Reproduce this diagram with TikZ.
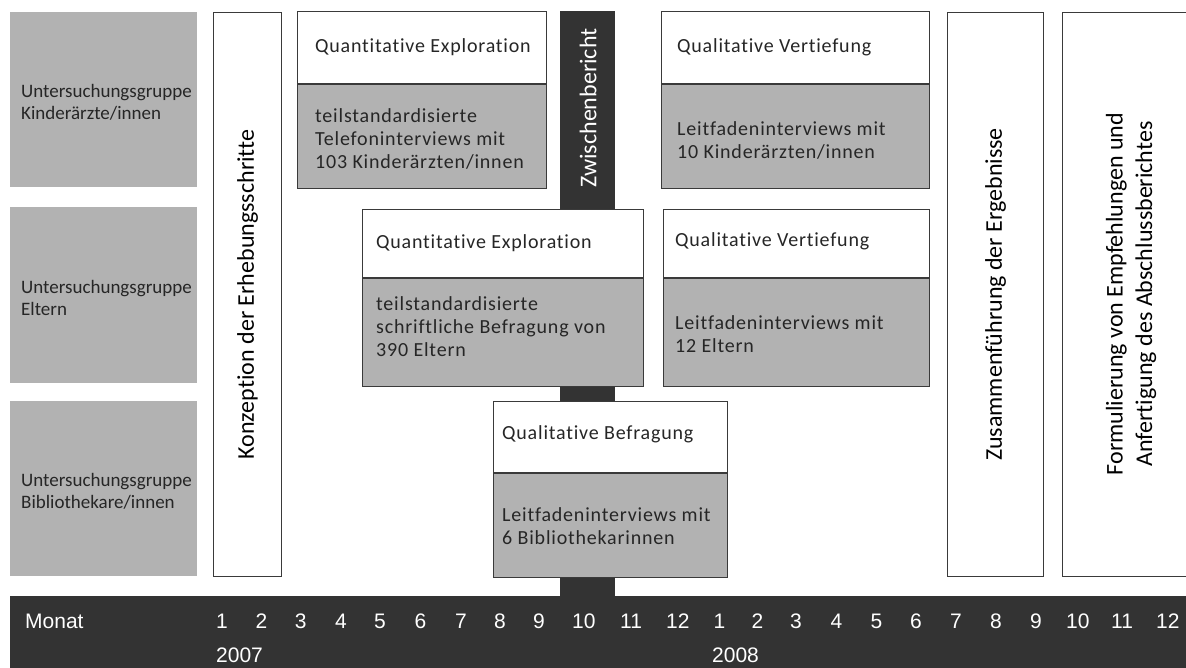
\documentclass[tikz,border=0pt]{standalone}
\usepackage{fontspec}
\setmainfont{Carlito}[RawFeature=-liga]
\newfontfamily\arialf{Liberation Sans}
\newfontfamily\spacedf[LetterSpace=4,RawFeature=-liga]{Carlito}
\definecolor{grpgray}{HTML}{B2B2B2}
\definecolor{boxline}{HTML}{3A3A3A}
\definecolor{darkband}{HTML}{333333}
\begin{document}
\begin{tikzpicture}[x=1pt,y=-1pt,
  groupbox/.style={fill=grpgray, draw=none, minimum width=187pt, anchor=north west, inner sep=0pt},
  topbox/.style={fill=white, draw=boxline, line width=1pt, anchor=north west, inner sep=0pt},
  detailbox/.style={fill=grpgray, draw=boxline, line width=1pt, anchor=north west, inner sep=0pt},
  grouptext/.style={font=\fontsize{19}{22}\selectfont, align=left, anchor=west, inner sep=0pt, text=black!85},
  boxtext/.style={font=\spacedf\fontsize{20}{23}\selectfont, align=left, anchor=west, inner sep=0pt, text=black!85},
  vtext/.style={rotate=90, font=\fontsize{24}{29.5}\selectfont, align=center, inner sep=0pt},
  monthlbl/.style={font=\arialf\fontsize{21}{25}\selectfont, text=white, anchor=base west, inner sep=0pt}
]
\useasboundingbox (0,0) rectangle (1186,667);
\clip (0,0) rectangle (1186,667);

% left group boxes
\node[groupbox, minimum height=175pt] (gK) at (10,12) {};
\node[groupbox, minimum height=176pt] (gE) at (10,207) {};
\node[groupbox, minimum height=175pt] (gB) at (10,401) {};
\node[grouptext] (tgK) at (21,102) {Untersuchungsgruppe\\Kinderärzte/innen};
\node[grouptext] (tgE) at (21,298) {Untersuchungsgruppe\\Eltern};
\node[grouptext] (tgB) at (21,491) {Untersuchungsgruppe\\Bibliothekare/innen};

% Konzeption
\node[topbox, minimum width=68pt, minimum height=564pt] (konz) at (213,12) {};
\node[vtext] (tkonz) at (konz.center) {Konzeption der Erhebungsschritte};

% Zwischenbericht bar
\fill[darkband] (560,11) rectangle (615,600);
\node[vtext, text=white] (tzw) at (588,108) {Zwischenbericht};

% Kinderaerzte: quantitative
\node[topbox, minimum width=249pt, minimum height=72pt] (qeK) at (297,11) {};
\node[detailbox, minimum width=249pt, minimum height=104pt] (qeKd) at (qeK.south west) {};
\node[boxtext] (tqeK) at (315,47) {Quantitative Exploration};
\node[boxtext] (tqeKd) at (315,139) {teilstandardisierte\\Telefoninterviews mit\\103 Kinderärzten/innen};

% Kinderaerzte: qualitative
\node[topbox, minimum width=268pt, minimum height=72pt] (qvK) at (661,11) {};
\node[detailbox, minimum width=268pt, minimum height=104pt] (qvKd) at (qvK.south west) {};
\node[boxtext] (tqvK) at (677,47) {Qualitative Vertiefung};
\node[boxtext] (tqvKd) at (677,140) {Leitfadeninterviews mit\\10 Kinderärzten/innen};

% Eltern: quantitative
\node[topbox, minimum width=281pt, minimum height=68pt] (qeE) at (362,209) {};
\node[detailbox, minimum width=281pt, minimum height=108pt] (qeEd) at (qeE.south west) {};
\node[boxtext] (tqeE) at (376,243) {Quantitative Exploration};
\node[boxtext] (tqeEd) at (376,327) {teilstandardisierte\\schriftliche Befragung von\\390 Eltern};

% Eltern: qualitative
\node[topbox, minimum width=266pt, minimum height=68pt] (qvE) at (663,209) {};
\node[detailbox, minimum width=266pt, minimum height=108pt] (qvEd) at (qvE.south west) {};
\node[boxtext] (tqvE) at (675,241) {Qualitative Vertiefung};
\node[boxtext] (tqvEd) at (675,334) {Leitfadeninterviews mit\\12 Eltern};

% Bibliothekare: qualitative
\node[topbox, minimum width=234pt, minimum height=71pt] (qbB) at (493,401) {};
\node[detailbox, minimum width=234pt, minimum height=104pt] (qbBd) at (qbB.south west) {};
\node[boxtext] (tqbB) at (502,434) {Qualitative Befragung};
\node[boxtext] (tqbBd) at (502,526) {Leitfadeninterviews mit\\6 Bibliothekarinnen};

% Zusammenfuehrung
\node[topbox, minimum width=96pt, minimum height=564pt] (zus) at (947,12) {};
\node[vtext] (tzus) at (zus.center) {Zusammenführung der Ergebnisse};

% Formulierung
\node[topbox, minimum width=140pt, minimum height=564pt] (form) at (1062,12) {};
\node[vtext] (tform) at (1131,294) {Formulierung von Empfehlungen und\\Anfertigung des Abschlussberichtes};

% bottom band
\fill[darkband] (10,596) rectangle (1190,670);
\node[monthlbl] (monat) at (25,628) {Monat};
\foreach \xx/\lab in {216/1,255.5/2,294.7/3,335/4,374/5,414.5/6,455/7,494/8,533/9,572/10,620/11,666/12,
  713.5/1,751.5/2,790/3,830.5/4,870.5/5,910/6,950/7,990/8,1030/9,1066/10,1111/11,1156/12}
  \node[monthlbl] at (\xx,628) {\lab};
\node[monthlbl] (y7) at (216,662) {2007};
\node[monthlbl] (y8) at (712,662) {2008};
\end{tikzpicture}
\end{document}
